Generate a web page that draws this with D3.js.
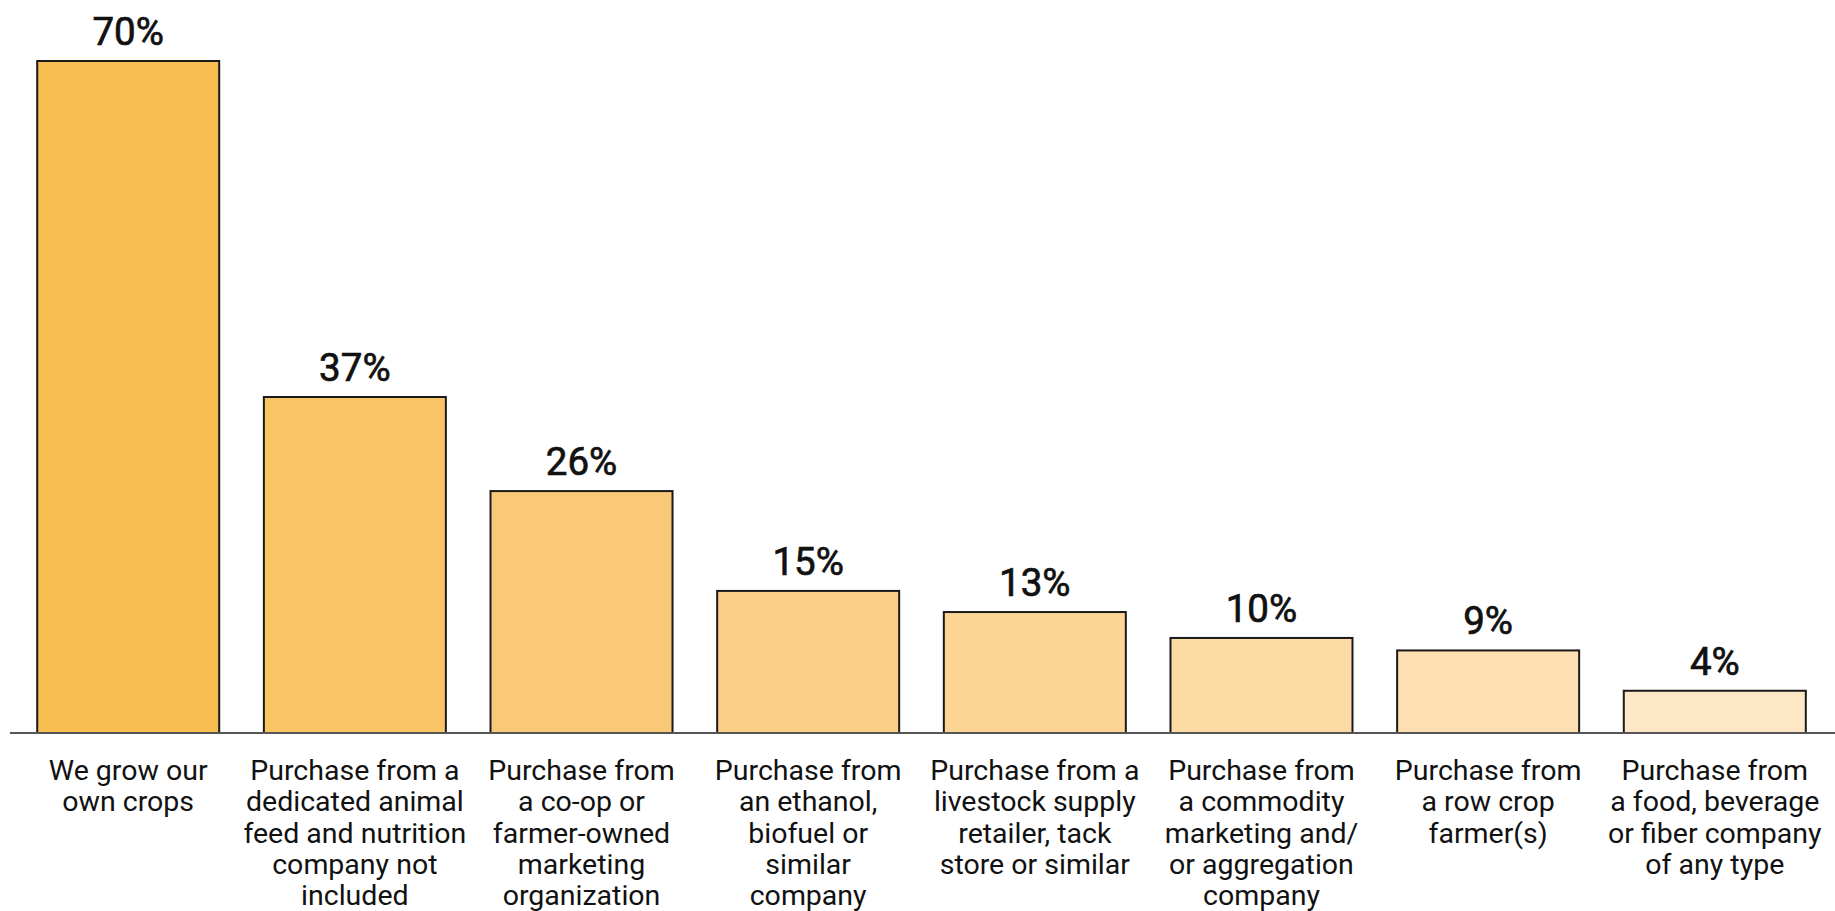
<!DOCTYPE html>
<html>
<head>
<meta charset="utf-8">
<script src="https://cdn.jsdelivr.net/npm/d3@7"></script>
<style>
  body { margin: 0; background: #fff; }
  svg { display: block; }
</style>
</head>
<body>
<script>
'use strict';

// category labels, already broken into lines as in the picture
const categories = [
  ["We grow our", "own crops"],
  ["Purchase from a", "dedicated animal", "feed and nutrition", "company not", "included"],
  ["Purchase from", "a co-op or", "farmer-owned", "marketing", "organization"],
  ["Purchase from", "an ethanol,", "biofuel or", "similar", "company"],
  ["Purchase from a", "livestock supply", "retailer, tack", "store or similar"],
  ["Purchase from", "a commodity", "marketing and/", "or aggregation", "company"],
  ["Purchase from", "a row crop", "farmer(s)"],
  ["Purchase from", "a food, beverage", "or fiber company", "of any type"]
];

// printed labels above the bars
const pctLabels = ["70%", "37%", "26%", "15%", "13%", "10%", "9%", "4%"];

// bar lengths as drawn in the picture (percent units)
const barValues = [70, 35, 25.2, 14.8, 12.6, 9.9, 8.6, 4.4];

// fill per bar, darkest to lightest
const barColors = ["#F9BE52", "#F9C463", "#FAC977", "#FBCF85", "#FCD595", "#FCDAA3", "#FDDFB1", "#FEE7C6"];

const width = 1835, height = 911;
const baseY = 733;

const svg = d3.select("body").append("svg")
  .attr("width", width)
  .attr("height", height);

// x positions of the bars
const x = d3.scaleBand()
  .domain(d3.range(categories.length))
  .range([10, 1833])
  .paddingInner(0.197)
  .paddingOuter(0.12);

// bar heights
const y = d3.scaleLinear()
  .domain([0, 70])
  .range([baseY, 61]);

// bars
svg.selectAll(".bar")
  .data(barValues)
  .enter()
  .append("rect")
    .attr("class", "bar")
    .attr("x", (d, i) => x(i))
    .attr("y", d => y(d))
    .attr("width", x.bandwidth())
    .attr("height", d => baseY - y(d))
    .attr("fill", (d, i) => barColors[i])
    .attr("stroke", "#1a1a1a")
    .attr("stroke-width", 2);

// baseline
svg.append("line")
  .attr("x1", 10)
  .attr("x2", width)
  .attr("y1", baseY)
  .attr("y2", baseY)
  .attr("stroke", "#555")
  .attr("stroke-width", 2);

// value labels (regular weight with a thin stroke, reads as medium)
svg.selectAll(".pct")
  .data(barValues)
  .enter()
  .append("text")
    .attr("class", "pct")
    .attr("x", (d, i) => x(i) + x.bandwidth() / 2)
    .attr("y", d => y(d) - 16)
    .attr("text-anchor", "middle")
    .style("font-family", "Roboto, sans-serif")
    .style("font-weight", 400)
    .style("font-size", "38.5px")
    .style("fill", "#111")
    .style("stroke", "#111")
    .style("stroke-width", "0.7px")
    .text((d, i) => pctLabels[i]);

// category labels under the axis
const catText = svg.selectAll(".cat")
  .data(categories)
  .enter()
  .append("text")
    .attr("class", "cat")
    .attr("x", (d, i) => x(i) + x.bandwidth() / 2)
    .attr("y", 780)
    .attr("text-anchor", "middle")
    .style("font-family", "Roboto, sans-serif")
    .style("font-size", "28.5px")
    .style("fill", "#111");

catText.each(function(lines, i) {
  let t = d3.select(this);
  lines.forEach((line, j) => {
    t.append("tspan")
      .attr("x", x(i) + x.bandwidth() / 2)
      .attr("dy", j === 0 ? 0 : 31.3)
      .text(line);
  });
});
</script>
</body>
</html>
